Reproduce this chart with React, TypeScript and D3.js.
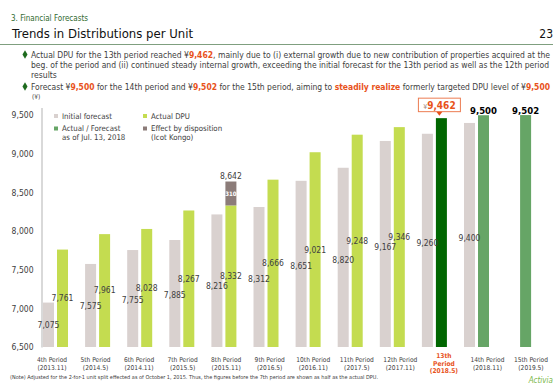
import React, { useEffect, useRef } from "react";
import * as d3 from "d3";

const periods = ["4th", "5th", "6th", "7th", "8th", "9th", "10th", "11th", "12th", "13th", "14th", "15th"];
const periodDates = ["(2013.11)", "(2014.5)", "(2014.11)", "(2015.5)", "(2015.11)", "(2016.5)", "(2016.11)", "(2017.5)", "(2017.11)", "(2018.5)", "(2018.11)", "(2019.5)"];
const initialForecast = [7075, 7575, 7755, 7885, 8216, 8312, 8651, 8820, 9167, 9260, 9400, null];
const actualDpu = [7761, 7961, 8028, 8267, 8332, 8666, 9021, 9248, 9346, 9462, 9500, 9502];
const disposition = [0, 0, 0, 0, 310, 0, 0, 0, 0, 0, 0, 0];
// actual = reported DPU, current = 13th period, forecast = as of Jul. 13, 2018
const actualKind = ["actual", "actual", "actual", "actual", "actual", "actual", "actual", "actual", "actual", "current", "forecast", "forecast"];
const yTicks = [6500, 7000, 7500, 8000, 8500, 9000, 9500];

const COLORS = {
  initial: "#d9d1cf",
  actual: "#c4dc50",
  current: "#006600",
  forecast: "#66a566",
  disposition: "#8c7c79",
  orange: "#e8521b",
  text: "#404040",
};

const FONT = "'DejaVu Sans Condensed', 'Liberation Sans', sans-serif";
const fmt = d3.format(",");

const width = 560;
const height = 388;

export default function App() {
  const axisRef = useRef<SVGGElement>(null);

  const x = d3.scaleBand<string>().domain(periods).range([34.45, 539.65]).paddingInner(0.406).paddingOuter(0.203);
  const xInner = d3.scaleBand<string>().domain(["initial", "actual"]).range([0, x.bandwidth()]).paddingInner(0.214);
  const xLabel = d3.scalePoint<string>().domain(periods).range([52, 531]);
  const y = d3.scaleLinear().domain([6500, 9600]).range([347, 107.5]);
  // value labels sit on compressed scales inside the chart (baseline y)
  const yLabelInit = d3.scaleLinear().domain([7075, 9400]).range([328, 241]);
  const yLabelAct = d3.scaleLinear().domain([7761, 9346]).range([301, 240]);

  useEffect(() => {
    const g = d3.select(axisRef.current);
    g.selectAll("*").remove();
    g.call(d3.axisLeft(y).tickValues(yTicks).tickSize(0).tickPadding(8).tickFormat((d) => fmt(d as number)));
    g.select(".domain").attr("stroke", "#d9d9d9").attr("stroke-width", 2);
    g.selectAll(".tick text").attr("fill", COLORS.text).attr("font-size", 8.5).attr("font-family", FONT);
  }, []);

  const legend = [
    { color: COLORS.initial, lines: ["Initial forecast"], lx: 54, ly: 114 },
    { color: COLORS.actual, lines: ["Actual DPU"], lx: 143, ly: 114 },
    { color: COLORS.forecast, lines: ["Actual / Forecast", "as of Jul. 13, 2018"], lx: 54, ly: 126.5 },
    { color: COLORS.disposition, lines: ["Effect by disposition", "(Icot Kongo)"], lx: 143, ly: 126.5 },
  ];

  const diamond = d3.symbol(d3.symbolDiamond, 22)();

  return (
    <svg width={width} height={height} style={{ position: "absolute", left: 0, top: 0 }} fontFamily={FONT}>
      <rect width={width} height={height} fill="#fff" />
      {/* header */}
      <text x={11} y={21} fontSize={8} fill="#2f6a2f">3. Financial Forecasts</text>
      <text x={12} y={38} fontSize={13} fill="#111">Trends in Distributions per Unit</text>
      <text x={553} y={38} fontSize={12} fill="#111" textAnchor="end">23</text>
      <line x1={0} x2={553} y1={44.5} y2={44.5} stroke="#7f9f7f" strokeWidth={1} />

      <path d={diamond!} transform="translate(25,54.5)" fill="#1e6b1e" />
      <text x={31} y={57.5} fontSize={8.6} fill={COLORS.text} textLength={519} lengthAdjust="spacingAndGlyphs">
        Actual DPU for the 13th period reached ¥<tspan fill={COLORS.orange} fontWeight="bold">9,462</tspan>, mainly due to (i) external growth due to new contribution of properties acquired at the
      </text>
      <text x={31} y={67.5} fontSize={8.6} fill={COLORS.text} textLength={518} lengthAdjust="spacingAndGlyphs">
        beg. of the period and (ii) continued steady internal growth, exceeding the initial forecast for the 13th period as well as the 12th period
      </text>
      <text x={31} y={77.5} fontSize={8.6} fill={COLORS.text}>results</text>
      <path d={diamond!} transform="translate(25,86.5)" fill="#1e6b1e" />
      <text x={31} y={89.5} fontSize={8.6} fill={COLORS.text} textLength={519} lengthAdjust="spacingAndGlyphs">
        Forecast ¥<tspan fill={COLORS.orange} fontWeight="bold">9,500</tspan> for the 14th period and ¥<tspan fill={COLORS.orange} fontWeight="bold">9,502</tspan> for the 15th period, aiming to <tspan fill={COLORS.orange} fontWeight="bold">steadily realize</tspan> formerly targeted DPU level of ¥<tspan fill={COLORS.orange} fontWeight="bold">9,500</tspan>
      </text>
      <text x={32} y={99} fontSize={6.5} fill={COLORS.text}>(¥)</text>

      {/* y axis */}
      <g ref={axisRef} transform="translate(41.5,0)" />

      {/* legend */}
      {legend.map((l, i) => (
        <g key={i}>
          <rect x={l.lx} y={l.ly} width={4} height={4} fill={l.color} />
          {l.lines.map((t, j) => (
            <text key={j} x={l.lx + 8} y={l.ly + 4.5 + j * 9} fontSize={7.8} fill={COLORS.text}>{t}</text>
          ))}
        </g>
      ))}

      {/* bars */}
      {periods.map((p, i) => {
        const x0 = x(p)!;
        const xi = x0 + xInner("initial")!;
        const xa = x0 + xInner("actual")!;
        const bw = xInner.bandwidth();
        const init = initialForecast[i];
        const act = actualDpu[i];
        const disp = disposition[i];
        const kind = actualKind[i];
        const actLabelY = yLabelAct(act);
        let initLabelY = init != null ? yLabelInit(init) : 0;
        // keep the initial label clear of the actual label beside it
        if (kind === "actual" && initLabelY - actLabelY < 10) initLabelY = actLabelY + 10;
        return (
          <g key={p}>
            {init != null && <rect x={xi} y={y(init)} width={bw} height={y(6500) - y(init)} fill={COLORS.initial} />}
            <rect x={xa} y={y(act)} width={bw} height={y(6500) - y(act)} fill={COLORS[kind as "actual" | "current" | "forecast"]} />
            {disp > 0 && (
              <g>
                <rect x={xa} y={y(act + disp)} width={bw} height={y(act) - y(act + disp)} fill={COLORS.disposition} />
                <text x={xa + bw / 2} y={(y(act) + y(act + disp)) / 2 + 2.2} fontSize={6} fontWeight="bold" fill="#fff" textAnchor="middle">{disp}</text>
                <text x={xa + bw / 2} y={y(act + disp) - 3} fontSize={8.5} fill={COLORS.text} textAnchor="middle">{fmt(act + disp)}</text>
              </g>
            )}
            {init != null && (
              <text x={xi + bw / 2} y={initLabelY} fontSize={8.5} fill={COLORS.text} textAnchor="middle">{fmt(init)}</text>
            )}
            {kind === "actual" && (
              <text x={xa + bw / 2} y={actLabelY} fontSize={8.5} fill={COLORS.text} textAnchor="middle">{fmt(act)}</text>
            )}
            {kind === "forecast" && (
              <text x={xa + bw / 2} y={y(act) - 1.5} fontSize={9.5} fontWeight="bold" fill="#000" textAnchor="middle">{fmt(act)}</text>
            )}
            {kind === "current" && (
              <g transform={`translate(${xa + bw / 2 - 2},0)`}>
                <rect x={-21} y={y(act) - 20} width={42} height={13.5} fill="#fff" stroke="#ec7c52" strokeWidth={1} />
                <path d={`M-3,${y(act) - 6.5}L3,${y(act) - 6.5}L0,${y(act) - 2.5}Z`} fill={COLORS.orange} />
                <text x={0} y={y(act) - 9.5} textAnchor="middle" fill={COLORS.orange}>
                  <tspan fontSize={7} fill="#a0837a">¥</tspan>
                  <tspan fontSize={10} fontWeight="bold">{fmt(act)}</tspan>
                </text>
              </g>
            )}
          </g>
        );
      })}

      {/* x labels */}
      {periods.map((p, i) => {
        const cx = xLabel(p)!;
        if (actualKind[i] === "current") {
          return (
            <text key={p} x={cx} fontSize={6.6} fontWeight="bold" fill={COLORS.orange} textAnchor="middle">
              <tspan x={cx} y={358}>{p}</tspan>
              <tspan x={cx} y={365.5}>Period</tspan>
              <tspan x={cx} y={373}>{periodDates[i]}</tspan>
            </text>
          );
        }
        return (
          <text key={p} x={cx} fontSize={6.6} fill={COLORS.text} textAnchor="middle">
            <tspan x={cx} y={362}>{p} Period</tspan>
            <tspan x={cx} y={369.5}>{periodDates[i]}</tspan>
          </text>
        );
      })}

      <text x={10} y={379} fontSize={5.4} fill={COLORS.text} textLength={368} lengthAdjust="spacingAndGlyphs">
        (Note) Adjusted for the 2-for-1 unit split effected as of October 1, 2015. Thus, the figures before the 7th period are shown as half as the actual DPU.
      </text>
      <text x={553} y={383} fontSize={8} fontStyle="italic" fill="#7cb84a" textAnchor="end">Activia</text>
    </svg>
  );
}
